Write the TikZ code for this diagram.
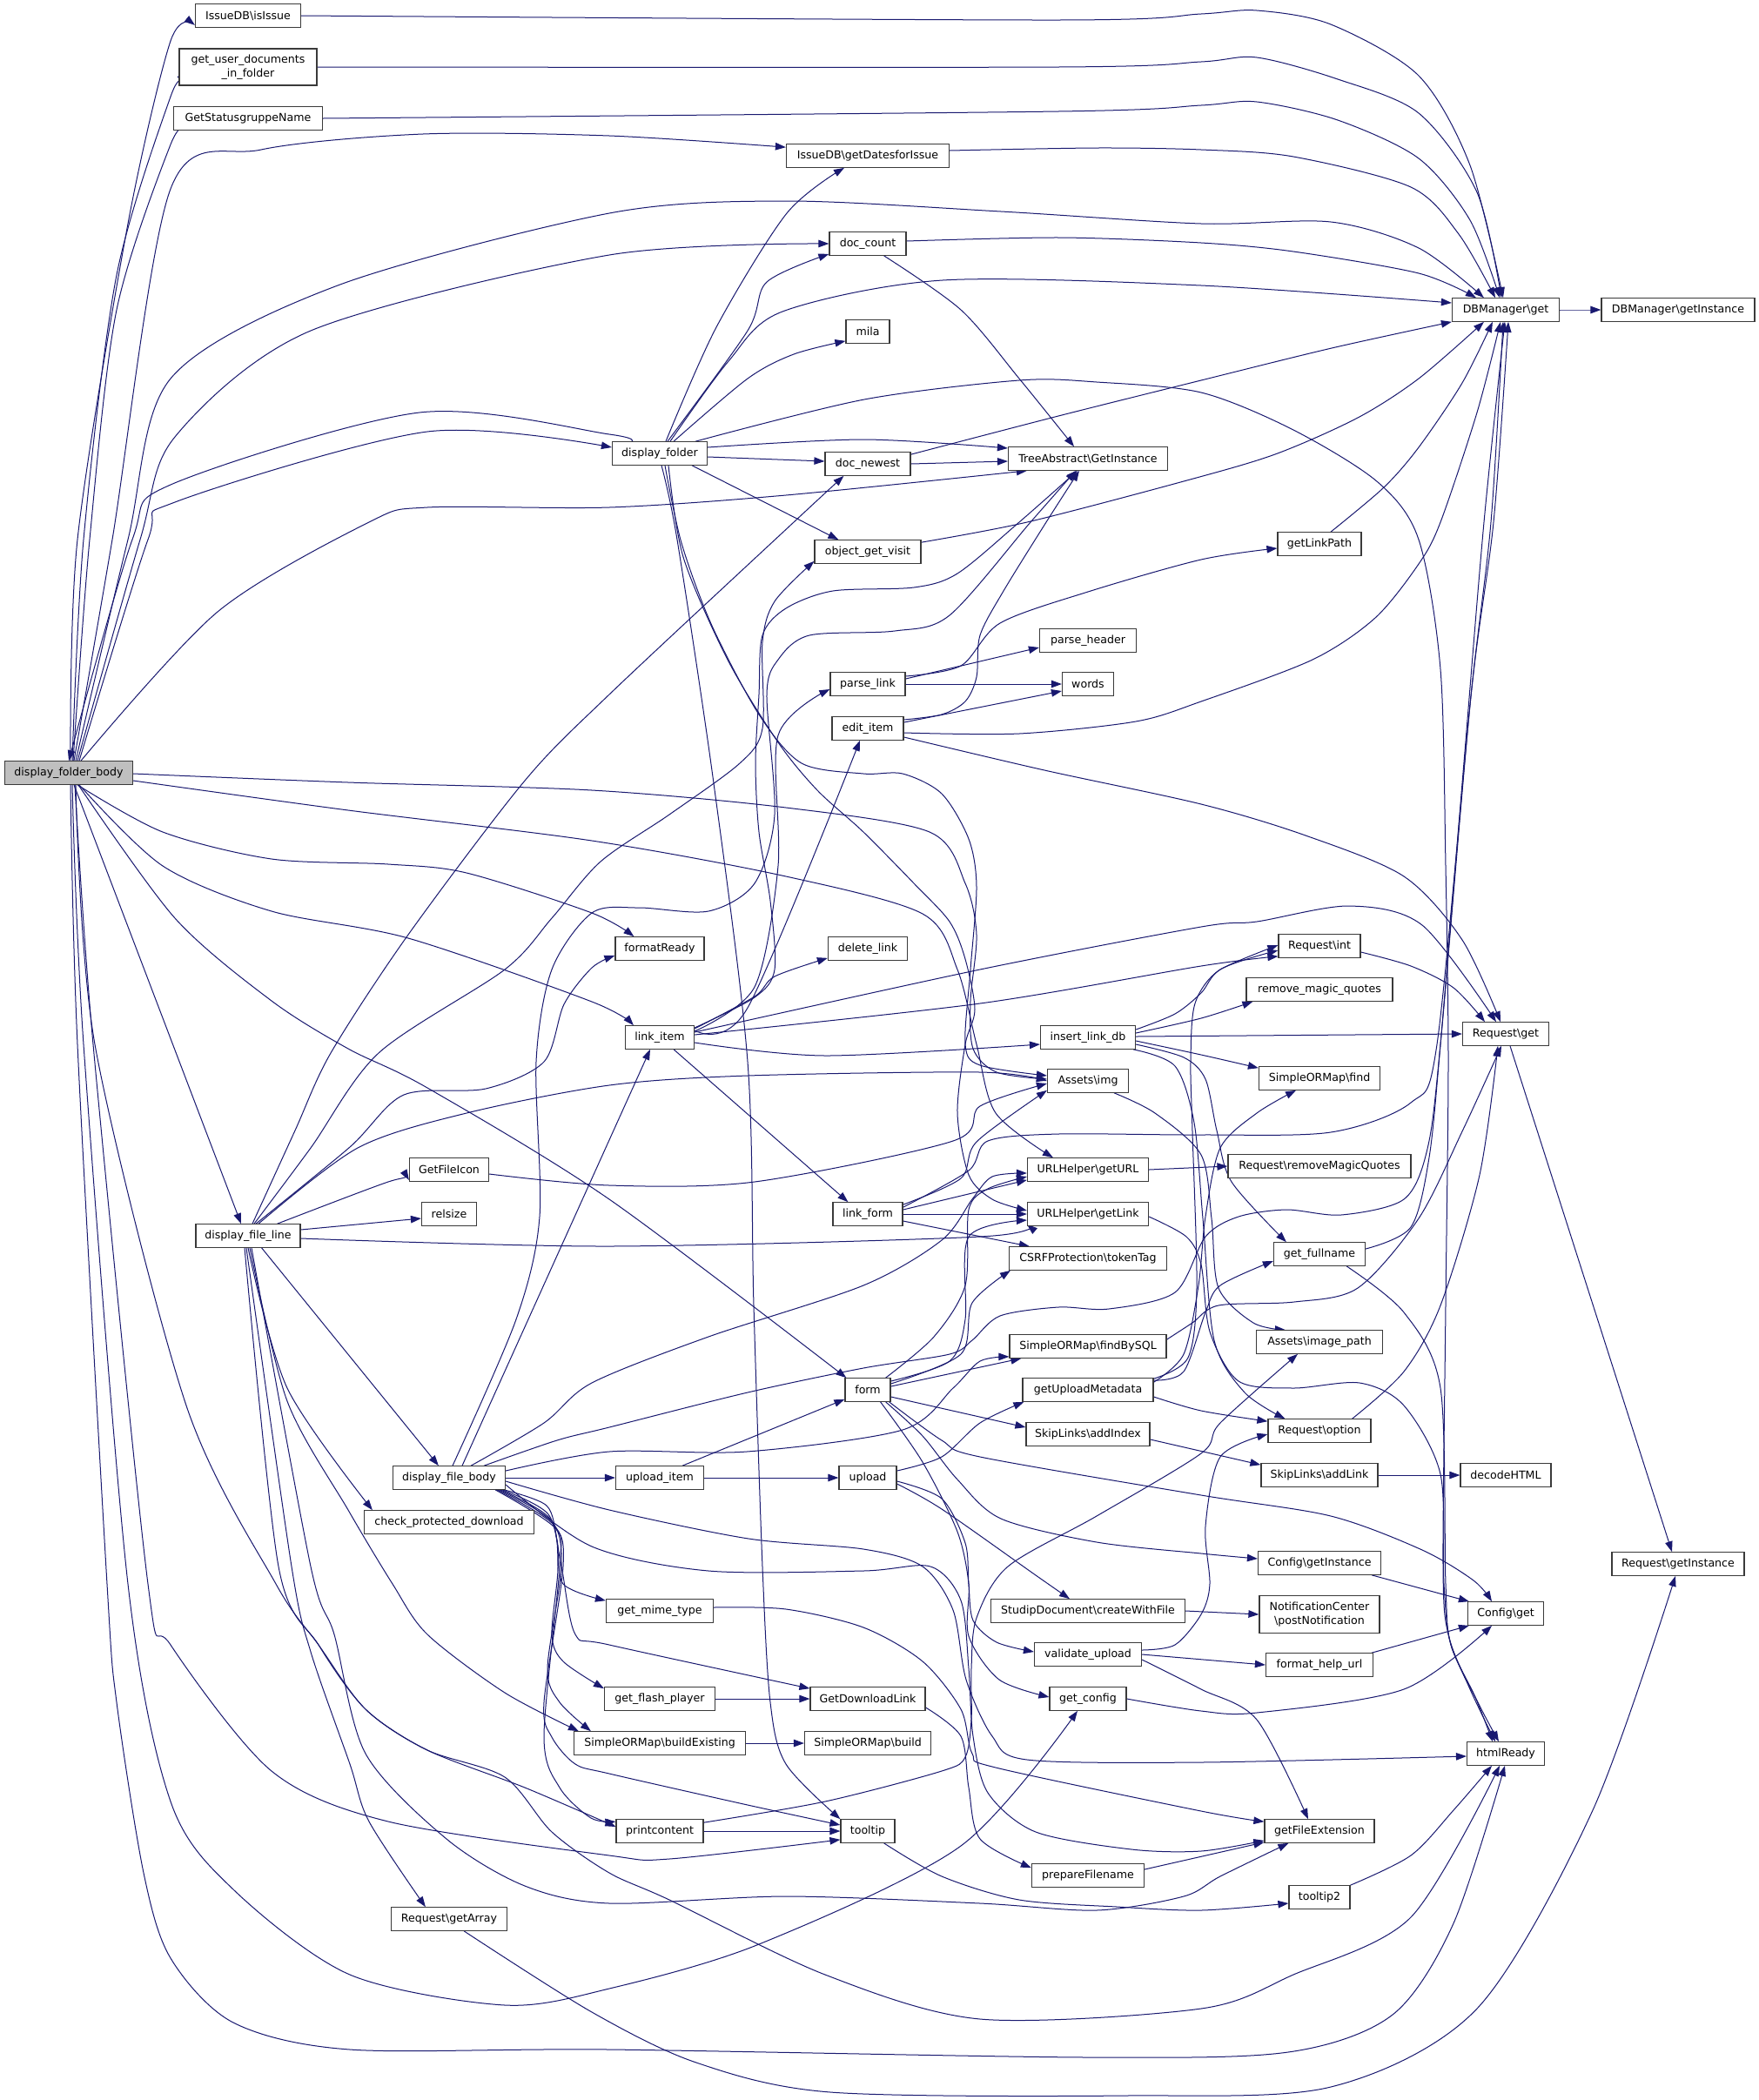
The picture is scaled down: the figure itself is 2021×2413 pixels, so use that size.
\documentclass[tikz,border=0pt]{standalone}
\usepackage{fontspec}
\setmainfont{DejaVu Sans}
\usetikzlibrary{arrows.meta,calc}
\definecolor{edgec}{HTML}{191970}
\definecolor{bordc}{HTML}{3A3A3A}
\definecolor{grayfill}{HTML}{BFBFBF}
\pgfdeclarelayer{bg}
\pgfsetlayers{bg,main}
\tikzset{
  fn/.style={draw=bordc, line width=1.2pt, fill=white, rectangle, minimum height=26.5pt,
    inner xsep=2pt, inner ysep=1pt, font=\fontsize{12.6}{15.8}\selectfont, align=center},
  e/.style={draw=edgec, line width=1pt, -{Triangle[length=12pt,width=8.5pt]}},
}
\begin{document}
\begin{tikzpicture}[x=1pt,y=-1pt]
\useasboundingbox (0,0) rectangle (2021,2413);
% ---------- nodes ----------
\node[fn, minimum width=147pt, fill=grayfill] (dfb) at (79,888) {display\_folder\_body};
\node[fn, minimum width=121pt] (isIssue) at (285,18) {IssueDB\textbackslash isIssue};
\node[fn, minimum width=158pt, minimum height=42pt] (getuser) at (285,77) {get\_user\_documents\\\_in\_folder};
\node[fn, minimum width=171pt] (getstatus) at (285,136) {GetStatusgruppeName};
\node[fn, minimum width=120pt] (dfl) at (285,1420) {display\_file\_line};
\node[fn, minimum width=187pt] (dates) at (997,179) {IssueDB\textbackslash getDatesforIssue};
\node[fn, minimum width=88pt] (doccount) at (997,280) {doc\_count};
\node[fn, minimum width=50pt] (mila) at (997,381) {mila};
\node[fn, minimum width=109pt] (df) at (758,521) {display\_folder};
\node[fn, minimum width=98pt] (docnewest) at (997,533) {doc\_newest};
\node[fn, minimum width=183pt] (tree) at (1250,527) {TreeAbstract\textbackslash GetInstance};
\node[fn, minimum width=123pt] (dbget) at (1730,356) {DBManager\textbackslash get};
\node[fn, minimum width=176pt] (dbinst) at (1928,356) {DBManager\textbackslash getInstance};
\node[fn, minimum width=96pt] (linkpath) at (1516,625) {getLinkPath};
\node[fn, minimum width=122pt] (ogv) at (997,634) {object\_get\_visit};
\node[fn, minimum width=111pt] (parseheader) at (1250,736) {parse\_header};
\node[fn, minimum width=86pt] (parselink) at (997,786) {parse\_link};
\node[fn, minimum width=59pt] (words) at (1250,786) {words};
\node[fn, minimum width=82pt] (edititem) at (997,837) {edit\_item};
\node[fn, minimum width=94pt] (reqint) at (1516,1087) {Request\textbackslash int};
\node[fn, minimum width=168pt] (rmq) at (1516,1137) {remove\_magic\_quotes};
\node[fn, minimum width=99pt] (reqget) at (1730,1188) {Request\textbackslash get};
\node[fn, minimum width=102pt] (formatready) at (758,1090) {formatReady};
\node[fn, minimum width=91pt] (deletelink) at (997,1090) {delete\_link};
\node[fn, minimum width=79pt] (linkitem) at (758,1192) {link\_item};
\node[fn, minimum width=109pt] (insertlink) at (1250,1192) {insert\_link\_db};
\node[fn, minimum width=93pt] (img) at (1250,1242) {Assets\textbackslash img};
\node[fn, minimum width=139pt] (ormfind) at (1516,1239) {SimpleORMap\textbackslash find};
\node[fn, minimum width=139pt] (geturl) at (1250,1344) {URLHelper\textbackslash getURL};
\node[fn, minimum width=210pt] (reqrmq) at (1516,1340) {Request\textbackslash removeMagicQuotes};
\node[fn, minimum width=91pt] (getfileicon) at (516,1344) {GetFileIcon};
\node[fn, minimum width=63pt] (relsize) at (516,1395) {relsize};
\node[fn, minimum width=80pt] (linkform) at (997,1395) {link\_form};
\node[fn, minimum width=139pt] (getlink) at (1250,1395) {URLHelper\textbackslash getLink};
\node[fn, minimum width=105pt] (fullname) at (1516,1441) {get\_fullname};
\node[fn, minimum width=181pt] (csrf) at (1250,1446) {CSRFProtection\textbackslash tokenTag};
\node[fn, minimum width=145pt] (imgpath) at (1516,1542) {Assets\textbackslash image\_path};
\node[fn, minimum width=180pt] (findbysql) at (1250,1547) {SimpleORMap\textbackslash findBySQL};
\node[fn, minimum width=52pt] (form) at (997,1597) {form};
\node[fn, minimum width=150pt] (uploadmeta) at (1250,1597) {getUploadMetadata};
\node[fn, minimum width=118pt] (reqoption) at (1516,1644) {Request\textbackslash option};
\node[fn, minimum width=142pt] (addindex) at (1250,1648) {SkipLinks\textbackslash addIndex};
\node[fn, minimum width=134pt] (addlink) at (1516,1695) {SkipLinks\textbackslash addLink};
\node[fn, minimum width=104pt] (decode) at (1730,1695) {decodeHTML};
\node[fn, minimum width=129pt] (dfb2) at (516,1698) {display\_file\_body};
\node[fn, minimum width=101pt] (uploaditem) at (758,1698) {upload\_item};
\node[fn, minimum width=66pt] (upload) at (997,1698) {upload};
\node[fn, minimum width=195pt] (checkprot) at (516,1749) {check\_protected\_download};
\node[fn, minimum width=141pt] (cfginst) at (1516,1796) {Config\textbackslash getInstance};
\node[fn, minimum width=152pt] (reqinst) at (1928,1797) {Request\textbackslash getInstance};
\node[fn, minimum width=123pt] (mime) at (758,1851) {get\_mime\_type};
\node[fn, minimum width=223pt] (createfile) at (1250,1851) {StudipDocument\textbackslash createWithFile};
\node[fn, minimum width=138pt, minimum height=43pt] (notif) at (1516,1855) {NotificationCenter\\\textbackslash postNotification};
\node[fn, minimum width=87pt] (cfgget) at (1730,1854) {Config\textbackslash get};
\node[fn, minimum width=123pt] (validate) at (1250,1901) {validate\_upload};
\node[fn, minimum width=123pt] (helpurl) at (1516,1913) {format\_help\_url};
\node[fn, minimum width=127pt] (flash) at (758,1952) {get\_flash\_player};
\node[fn, minimum width=132pt] (dllink) at (997,1952) {GetDownloadLink};
\node[fn, minimum width=88pt] (getconfig) at (1250,1952) {get\_config};
\node[fn, minimum width=197pt] (buildex) at (758,2003) {SimpleORMap\textbackslash buildExisting};
\node[fn, minimum width=145pt] (build) at (997,2003) {SimpleORMap\textbackslash build};
\node[fn, minimum width=89pt] (html) at (1730,2015) {htmlReady};
\node[fn, minimum width=100pt] (printc) at (758,2104) {printcontent};
\node[fn, minimum width=62pt] (tooltip) at (997,2104) {tooltip};
\node[fn, minimum width=126pt] (fileext) at (1516,2104) {getFileExtension};
\node[fn, minimum width=129pt] (prepfn) at (1250,2155) {prepareFilename};
\node[fn, minimum width=70pt] (tooltip2) at (1516,2180) {tooltip2};
\node[fn, minimum width=133pt] (getarray) at (516,2205) {Request\textbackslash getArray};
% ---------- edges ----------
\begin{pgfonlayer}{bg}
\fill[white] (0,0) rectangle (2021,2413);
% display_folder_body
\draw[e] plot[smooth] coordinates {($(dfb.north)+(2,0)$) (89,620) (147,257) (196,47) ($(isIssue.south west)+(0,-3)$)};
\draw[e] plot[smooth] coordinates {($(dfb.north)+(4,0)$) (96,620) (134,316) (196,111) ($(getuser.south west)+(5,0)$)};
\draw[e] plot[smooth] coordinates {($(dfb.north)+(5,0)$) (103,620) (134,356) (196,166) ($(getstatus.south west)+(16,0)$)};
\draw[e] plot[smooth] coordinates {($(dfb.north)+(6,0)$) (129,620) (196,217) (300,172) (486,154) (700,156) ($(dates.north west)+(0,4)$)};
\draw[e] plot[smooth] coordinates {($(dfb.north)+(8,0)$) (147,620) (196,435) (388,328) (700,245) (903,231) (1150,243) (1380,257) (1529,255) (1630,285) ($(dbget.north west)+(37,0)$)};
\draw[e] plot[smooth] coordinates {($(dfb.north)+(10,0)$) (161,620) (201,502) (357,380) (700,293) (doccount.west)};
\draw[e] plot[smooth] coordinates {($(dfb.north)+(12,0)$) (170,620) (201,577) (491,496) ($(df.west)+(0,-7)$)};
\draw[e] plot[smooth] coordinates {($(df.north west)+(23,0)$) (700,499) (482,474) (196,557) (152,620) (dfb.north)};
\draw[e] plot[smooth] coordinates {($(dfb.north)+(14,0)$) (250,703) (424,600) (491,583) (700,583) (903,569) ($(tree.south west)+(22,0)$)};
\draw[e] plot[smooth] coordinates {($(dfb.east)+(0,1)$) (400,899) (680,908) (903,928) (1068,956) (1109,1015) (1122,1074) (1115,1150) (1118,1205) (1145,1232) ($(img.west)+(0,-2)$)};
\draw[e] plot[smooth] coordinates {($(dfb.east)+(0,9)$) (400,931) (680,966) (903,1007) (1060,1050) (1100,1114) (1122,1200) (1144,1279) ($(geturl.north west)+(30,0)$)};
\draw[e] plot[smooth] coordinates {($(dfb.south)+(10,0)$) (187,956) (312,987) (446,993) (536,1003) (680,1049) ($(formatready.north west)+(22,0)$)};
\draw[e] plot[smooth] coordinates {($(dfb.south)+(12,0)$) (187,995) (312,1047) (469,1078) (680,1151) ($(linkitem.north west)+(10,0)$)};
\draw[e] plot[smooth] coordinates {($(dfb.south)+(11,0)$) (201,1055) (312,1150) (400,1205) (491,1250) (700,1378) ($(form.north west)+(2,0)$)};
\draw[e] plot[smooth] coordinates {($(dfb.south)+(6,0)$) ($(dfl.north)+(-8,0)$)};
\draw[e] plot[smooth] coordinates {($(dfb.south)+(2,0)$) (89,1200) (123,1820) (134,1956) (165,2152) (196,2250) (268,2324) (402,2355) (700,2355) (1250,2364) (1480,2358) (1600,2315) (1670,2210) ($(html.south)+(-1,0)$)};
\draw[e] plot[smooth] coordinates {($(dfb.south)+(4,0)$) (96,1200) (147,1820) (196,2070) (268,2171) (402,2269) (580,2304) (700,2285) (872,2234) (1104,2121) ($(getconfig.south)+(-12,0)$)};
\draw[e] plot[smooth] coordinates {($(dfb.south)+(7,0)$) (107,1200) (170,1820) (196,1890) (312,2035) (446,2093) (700,2132) (769,2136) ($(tooltip.south west)+(0,-4)$)};
\draw[e] plot[smooth] coordinates {($(dfb.south)+(8,0)$) (109,1200) (214,1615) (317,1820) (366,1890) (420,1964) (491,2011) (603,2054) ($(printc.west)+(0,-5)$)};
% display_file_line
\draw[e] plot[smooth] coordinates {($(dfl.north)+(5,0)$) (339,1299) (380,1210) (469,1074) (603,897) (700,798) (912,600) ($(docnewest.south west)+(22,0)$)};
\draw[e] plot[smooth] coordinates {($(dfl.north)+(7,0)$) (357,1319) (435,1210) (580,1114) (634,1055) (690,990) (769,936) (850,877) (876,837) (876,738) (890,691) ($(ogv.south west)+(0,-3)$)};
\draw[e] plot[smooth] coordinates {($(dfl.north)+(9,0)$) (402,1318) (464,1258) (558,1251) (625,1220) (648,1154) (680,1112) ($(formatready.west)+(0,8)$)};
\draw[e] plot[smooth] coordinates {($(dfl.north)+(12,0)$) (411,1319) (536,1279) (700,1247) (859,1236) (1126,1232) (img.west)};
\draw[e] plot[smooth] coordinates {($(dfl.north east)+(-27,0)$) (446,1358) ($(getfileicon.south west)+(0,-2)$)};
\draw[e] plot[smooth] coordinates {($(dfl.east)+(0,-7)$) ($(relsize.west)+(0,5)$)};
\draw[e] plot[smooth] coordinates {($(dfl.east)+(0,3)$) (700,1432) (1126,1421) ($(getlink.south west)+(0,-2)$)};
\draw[e] plot[smooth] coordinates {($(dfl.south east)+(-45,0)$) ($(dfb2.north west)+(53,0)$)};
\draw[e] plot[smooth] coordinates {(dfl.south) (330,1595) ($(checkprot.north west)+(10,0)$)};
\draw[e] plot[smooth] coordinates {($(dfl.south)+(2,0)$) (330,1610) (400,1735) (451,1820) (491,1878) (580,1945) ($(buildex.north west)+(6,0)$)};
\draw[e] plot[smooth] coordinates {($(dfl.south)+(-2,0)$) (335,1800) (357,1898) (402,2027) (424,2093) ($(getarray.north west)+(40,0)$)};
\draw[e] plot[smooth] coordinates {($(dfl.south)+(-4,0)$) (320,1800) (366,1890) (420,1964) (491,2011) (580,2042) (634,2105) (700,2152) (769,2183) (948,2269) (1126,2320) (1380,2308) (1486,2269) (1621,2203) ($(html.south)+(-7,0)$)};
\draw[e] plot[smooth] coordinates {($(dfl.south)+(4,0)$) (357,1800) (384,1878) (420,2015) (513,2113) (603,2167) (700,2187) (903,2179) (1126,2187) (1260,2195) (1360,2179) (1402,2156) ($(fileext.south west)+(28,0)$)};
% display_folder
\draw[e] plot[smooth] coordinates {($(df.north)+(7,0)$) (823,376) (904,245) ($(dates.south)+(-27,0)$)};
\draw[e] plot[smooth] coordinates {($(df.north)+(9,0)$) (859,380) (881,324) ($(doccount.south west)+(0,-2)$)};
\draw[e] plot[smooth] coordinates {($(df.north)+(12,0)$) (837,415) (899,358) (1083,322) (1380,328) ($(dbget.west)+(0,-8)$)};
\draw[e] plot[smooth] coordinates {($(df.north)+(16,0)$) (859,435) (912,407) ($(mila.south west)+(0,-3)$)};
\draw[e] plot[smooth] coordinates {($(df.north east)+(-14,0)$) (993,459) (1171,437) (1260,439) (1380,451) (1486,494) (1583,554) (1630,620) (1655,769) (1661,995) (1664,1220) (1661,1500) (1658,1800) (1664,1878) (1689,1941) ($(html.north)+(-12,0)$)};
\draw[e] plot[smooth] coordinates {($(df.east)+(0,-7)$) (993,505) ($(tree.west)+(0,-12)$)};
\draw[e] plot[smooth] coordinates {($(df.east)+(0,4)$) ($(docnewest.west)+(0,-3)$)};
\draw[e] plot[smooth] coordinates {($(df.south east)+(-18,0)$) ($(ogv.north west)+(28,0)$)};
\draw[e] plot[smooth] coordinates {($(df.south)+(2,0)$) (778,620) (820,900) (859,1220) (866,1500) (876,1800) (885,1956) (903,2027) (tooltip.north west)};
\draw[e] plot[smooth] coordinates {($(df.south)+(6,0)$) (783,624) (818,719) (872,821) (921,877) (992,889) (1037,889) (1082,912) (1113,964) (1122,1019) (1115,1114) (1109,1200) (1126,1224) ($(img.west)+(0,-6)$)};
\draw[e] plot[smooth] coordinates {($(df.south)+(10,0)$) (785,640) (836,758) (894,853) (939,908) (992,956) (1050,1015) (1091,1059) (1109,1102) (1120,1160) (1109,1200) (1100,1279) (1113,1350) (1140,1378) ($(getlink.west)+(0,-4)$)};
% top row callers of DBManager::get
\draw[e] plot[smooth] coordinates {(isIssue.east) (1216,23) (1380,16) (1444,12) (1529,28) (1630,87) (1689,190) ($(dbget.north)+(-3,0)$)};
\draw[e] plot[smooth] coordinates {(getuser.east) (1216,77) (1380,71) (1444,66) (1537,91) (1630,130) (1697,221) ($(dbget.north)+(-5,0)$)};
\draw[e] plot[smooth] coordinates {(getstatus.east) (1216,128) (1380,121) (1444,117) (1537,138) (1630,182) (1689,253) ($(dbget.north)+(-7,0)$)};
\draw[e] plot[smooth] coordinates {($(dates.east)+(0,-6)$) (1260,170) (1380,172) (1486,180) (1621,215) (1676,269) ($(dbget.north)+(-12,0)$)};
% doc_count, doc_newest, object_get_visit, getLinkPath
\draw[e] plot[smooth] coordinates {($(doccount.east)+(0,-3)$) (1218,273) (1380,279) (1486,289) (1630,314) ($(dbget.north west)+(28,0)$)};
\draw[e] plot[smooth] coordinates {($(doccount.south east)+(-26,0)$) (1104,356) (1171,435) ($(tree.north)+(-16,0)$)};
\draw[e] plot[smooth] coordinates {(docnewest.east) ($(tree.west)+(0,3)$)};
\draw[e] plot[smooth] coordinates {($(docnewest.north east)+(0,3)$) (1216,478) (1380,437) (1530,400) (dbget.south west)};
\draw[e] plot[smooth] coordinates {($(ogv.north east)+(0,3)$) (1180,600) (1360,553) (1465,522) (1560,480) (1630,435) ($(dbget.south west)+(37,0)$)};
\draw[e] plot[smooth] coordinates {($(linkpath.north)+(13,0)$) (1590,560) (1630,514) (1680,440) ($(dbget.south west)+(47,0)$)};
% edit_item, parse_link
\draw[e] plot[smooth] coordinates {($(edititem.east)+(0,-10)$) (1082,821) (1109,806) (1122,778) (1126,730) (1153,679) (1202,600) ($(tree.south)+(-10,0)$)};
\draw[e] plot[smooth] coordinates {($(edititem.east)+(0,-7)$) ($(words.west)+(0,8)$)};
\draw[e] plot[smooth] coordinates {($(edititem.east)+(0,5)$) (1171,843) (1305,829) (1380,806) (1508,758) (1580,710) (1630,648) (1655,600) (1697,474) ($(dbget.south)+(-6,0)$)};
\draw[e] plot[smooth] coordinates {($(edititem.east)+(0,10)$) (1200,885) (1380,924) (1500,960) (1613,1007) (1680,1080) ($(reqget.north)+(-6,0)$)};
\draw[e] plot[smooth] coordinates {($(parselink.east)+(0,-6)$) ($(parseheader.west)+(0,8)$)};
\draw[e] plot[smooth] coordinates {(parselink.east) (words.west)};
\draw[e] plot[smooth] coordinates {($(parselink.east)+(0,-9)$) (1104,765) (1149,716) (1250,680) (1380,643) ($(linkpath.west)+(0,5)$)};
\draw[e] plot[smooth] coordinates {(dbget.east) (dbinst.west)};
\draw[e] plot[smooth] coordinates {($(reqint.east)+(0,7)$) (1621,1110) (1670,1135) ($(reqget.north)+(-24,0)$)};
\draw[e] plot[smooth] coordinates {($(reqget.south)+(5,0)$) ($(reqinst.north)+(-7,0)$)};
% link_item
\draw[e] plot[smooth] coordinates {($(linkitem.east)+(0,-10)$) (867,1145) (890,1122) ($(deletelink.south west)+(0,-3)$)};
\draw[e] plot[smooth] coordinates {($(linkitem.east)+(0,-8)$) (859,1158) ($(edititem.south)+(-9,0)$)};
\draw[e] plot[smooth] coordinates {($(linkitem.east)+(0,-7)$) (867,1134) (894,995) (894,845) ($(parselink.west)+(0,6)$)};
\draw[e] plot[smooth] coordinates {($(linkitem.east)+(0,-11)$) (867,1146) (890,1114) (885,1035) (872,956) (868,877) (872,798) (876,730) (903,699) (957,679) (1050,675) (1100,659) (1171,600) ($(tree.south)+(-12,0)$)};
\draw[e] plot[smooth] coordinates {($(linkitem.east)+(0,-6)$) (1126,1114) (1380,1065) (1444,1059) (1550,1041) (1634,1063) ($(reqget.north)+(-11,0)$)};
\draw[e] plot[smooth] coordinates {($(linkitem.east)+(0,-3)$) (1126,1153) (1380,1110) ($(reqint.south west)+(0,-2)$)};
\draw[e] plot[smooth] coordinates {($(linkitem.east)+(0,6)$) (948,1213) ($(insertlink.west)+(0,8)$)};
\draw[e] plot[smooth] coordinates {($(linkitem.south east)+(-24,0)$) ($(linkform.north west)+(18,0)$)};
% insert_link_db
\draw[e] plot[smooth] coordinates {($(insertlink.east)+(0,-9)$) (1350,1165) (1380,1141) (1402,1114) ($(reqint.west)+(0,-1)$)};
\draw[e] plot[smooth] coordinates {($(insertlink.east)+(0,-5)$) (1380,1170) ($(rmq.south west)+(8,0)$)};
\draw[e] plot[smooth] coordinates {($(insertlink.east)+(0,-1)$) (reqget.west)};
\draw[e] plot[smooth] coordinates {($(insertlink.east)+(0,4)$) (1380,1212) ($(ormfind.north west)+(0,2)$)};
\draw[e] plot[smooth] coordinates {($(insertlink.east)+(0,8)$) (1360,1215) (1385,1240) (1398,1299) (1415,1358) ($(fullname.north west)+(15,0)$)};
\draw[e] plot[smooth] coordinates {($(insertlink.south east)+(-3,0)$) (1350,1225) (1372,1290) (1382,1400) (1395,1540) (1430,1600) ($(reqoption.north west)+(20,0)$)};
\draw[e] plot[smooth] coordinates {($(img.south east)+(-17,0)$) (1327,1279) (1380,1327) (1392,1400) (1400,1480) (1440,1520) ($(imgpath.north west)+(34,0)$)};
\draw[e] plot[smooth] coordinates {(geturl.east) (reqrmq.west)};
\draw[e] plot[smooth] coordinates {($(getlink.east)+(0,3)$) (1363,1421) (1380,1453) (1390,1530) (1423,1587) (1486,1595) (1562,1589) (1613,1615) (1655,1694) (1659,1820) (1667,1890) (1695,1950) ($(html.north)+(-15,0)$)};
% link_form
\draw[e] plot[smooth] coordinates {($(linkform.north east)+(0,3)$) (1104,1354) (1122,1312) ($(img.south west)+(0,-3)$)};
\draw[e] plot[smooth] coordinates {($(linkform.north east)+(0,6)$) (1113,1345) (1135,1311) (1216,1303) (1380,1304) (1529,1301) (1621,1267) (1651,1200) (1690,800) (1713,600) ($(dbget.south)+(-3,0)$)};
\draw[e] plot[smooth] coordinates {($(linkform.east)+(0,-5)$) ($(geturl.south west)+(0,-2)$)};
\draw[e] plot[smooth] coordinates {(linkform.east) (getlink.west)};
\draw[e] plot[smooth] coordinates {($(linkform.east)+(0,8)$) ($(csrf.north west)+(24,0)$)};
% form
\draw[e] plot[smooth] coordinates {($(form.north east)+(-6,0)$) (1073,1536) (1109,1477) (1113,1390) (1135,1366) ($(geturl.west)+(0,8)$)};
\draw[e] plot[smooth] coordinates {($(form.east)+(0,-10)$) (1091,1564) (1109,1516) (1113,1421) ($(getlink.west)+(0,7)$)};
\draw[e] plot[smooth] coordinates {($(form.east)+(0,-7)$) (1104,1556) (1117,1497) ($(csrf.south west)+(2,0)$)};
\draw[e] plot[smooth] coordinates {($(form.east)+(0,-4)$) ($(findbysql.south west)+(14,0)$)};
\draw[e] plot[smooth] coordinates {($(form.east)+(0,8)$) ($(addindex.west)+(0,-8)$)};
\draw[e] plot[smooth] coordinates {($(form.south east)+(-2,0)$) (1082,1655) (1126,1674) (1380,1718) (1529,1742) (1634,1781) (1693,1816) ($(cfgget.north)+(-16,0)$)};
\draw[e] plot[smooth] coordinates {($(form.south east)+(-6,0)$) (1060,1650) (1100,1700) (1150,1745) (1260,1772) (1380,1785) ($(cfginst.west)+(0,-5)$)};
\draw[e] plot[smooth] coordinates {($(form.south east)+(-12,0)$) (1060,1680) (1100,1760) (1113,1820) (1113,1880) (1148,1930) ($(getconfig.west)+(0,-2)$)};
% getUploadMetadata
\draw[e] plot[smooth] coordinates {($(uploadmeta.north east)+(0,5)$) (1360,1556) (1377,1477) (1385,1398) (1402,1319) (1444,1279) ($(ormfind.south)+(-27,0)$)};
\draw[e] plot[smooth] coordinates {($(uploadmeta.north east)+(0,3)$) (1360,1576) (1385,1508) (1402,1477) ($(fullname.west)+(0,8)$)};
\draw[e] plot[smooth] coordinates {($(uploadmeta.north east)+(0,1)$) (1365,1560) (1375,1480) (1370,1300) (1368,1220) (1373,1153) (1402,1114) ($(reqint.west)+(0,5)$)};
\draw[e] plot[smooth] coordinates {($(uploadmeta.east)+(0,8)$) (1380,1621) ($(reqoption.north west)+(0,3)$)};
% misc right part
\draw[e] plot[smooth] coordinates {($(addindex.east)+(0,6)$) ($(addlink.north west)+(0,2)$)};
\draw[e] plot[smooth] coordinates {(addlink.east) (decode.west)};
\draw[e] plot[smooth] coordinates {($(cfginst.south east)+(-11,0)$) ($(cfgget.north west)+(2,0)$)};
\draw[e] plot[smooth] coordinates {(createfile.east) (notif.west)};
\draw[e] plot[smooth] coordinates {($(validate.east)+(0,-5)$) (1350,1890) (1380,1855) (1390,1820) (1385,1754) (1402,1674) ($(reqoption.west)+(0,4)$)};
\draw[e] plot[smooth] coordinates {(validate.east) (helpurl.west)};
\draw[e] plot[smooth] coordinates {($(validate.east)+(0,6)$) (1380,1941) (1444,1976) ($(fileext.north)+(-13,0)$)};
\draw[e] plot[smooth] coordinates {($(helpurl.north east)+(-2,0)$) ($(cfgget.south west)+(2,0)$)};
\draw[e] plot[smooth] coordinates {(getconfig.east) (1380,1966) (1444,1968) (1613,1941) ($(cfgget.south)+(-16,0)$)};
\draw[e] plot[smooth] coordinates {($(fullname.east)+(0,-6)$) (1621,1410) (1642,1330) (1655,1200) (1680,900) (1705,600) ($(dbget.south)+(-1,0)$)};
\draw[e] plot[smooth] coordinates {($(fullname.south east)+(-22,0)$) (1613,1508) (1655,1595) (1661,1820) (1667,1890) (1700,1960) ($(html.north)+(-8,0)$)};
\draw[e] plot[smooth] coordinates {($(findbysql.north east)+(0,6)$) (1370,1520) (1400,1500) (1487,1496) (1560,1480) (1630,1400) (1680,1300) ($(reqget.south)+(-5,0)$)};
\draw[e] plot[smooth] coordinates {($(reqoption.north east)+(-22,0)$) (1613,1576) (1655,1500) (1700,1350) ($(reqget.south)+(-9,0)$)};
% upload, upload_item
\draw[e] plot[smooth] coordinates {($(upload.east)+(0,-8)$) (1082,1674) (1126,1635) ($(uploadmeta.south west)+(2,0)$)};
\draw[e] plot[smooth] coordinates {($(upload.east)+(0,7)$) (1082,1734) (1190,1810) ($(createfile.north)+(-21,0)$)};
\draw[e] plot[smooth] coordinates {($(upload.east)+(0,4)$) (1082,1722) (1109,1773) (1113,1820) (1118,1862) (1145,1887) ($(validate.west)+(0,-3)$)};
\draw[e] plot[smooth] coordinates {($(uploaditem.north east)+(-25,0)$) ($(form.south west)+(0,-3)$)};
\draw[e] plot[smooth] coordinates {(uploaditem.east) (upload.west)};
% display_file_body
\draw[e] plot[smooth] coordinates {(dfb2.east) (uploaditem.west)};
\draw[e] plot[smooth] coordinates {($(dfb2.north)+(15,0)$) ($(linkitem.south)+(-11,0)$)};
\draw[e] plot[smooth] coordinates {($(dfb2.north)+(4,0)$) (593,1516) (620,1398) (616,1220) (634,1114) (680,1049) (734,1043) (814,1047) (867,1015) (890,936) (881,798) (894,758) (930,730) (1028,725) (1091,707) (1184,600) ($(tree.south)+(-14,0)$)};
\draw[e] plot[smooth] coordinates {($(dfb2.north east)+(-40,0)$) (625,1635) (680,1589) (814,1536) (992,1477) (1082,1425) (1117,1378) (1140,1352) ($(geturl.west)+(0,4)$)};
\draw[e] plot[smooth] coordinates {($(dfb2.north east)+(-25,0)$) (640,1655) (700,1640) (859,1600) (992,1572) (1091,1556) (1117,1540) (1149,1512) (1216,1502) (1274,1504) (1350,1485) (1385,1421) (1423,1398) (1478,1390) (1541,1396) (1613,1378) (1640,1320) (1655,1200) (1690,800) (1716,600) ($(dbget.south)+(3,0)$)};
\draw[e] plot[smooth] coordinates {($(dfb2.east)+(0,-8)$) (700,1668) (858,1668) (1037,1643) (1095,1595) (1126,1564) ($(findbysql.south west)+(0,-2)$)};
\draw[e] plot[smooth] coordinates {($(dfb2.east)+(0,4)$) (700,1735) (860,1768) (992,1780) (1060,1800) (1095,1850) (1110,1930) (1140,1995) (1180,2022) (1380,2025) ($(html.west)+(0,3)$)};
\draw[e] plot[smooth] coordinates {($(dfb2.east)+(0,8)$) (680,1777) (814,1805) (992,1805) (1069,1800) (1104,1839) (1113,1917) (1118,1995) (1135,2060) (1190,2105) (1300,2125) (1380,2127) ($(fileext.south west)+(0,-3)$)};
\draw[e] plot[smooth] coordinates {($(dfb2.south east)+(-2,0)$) (628,1730) (640,1770) (647,1820) ($(mime.north west)+(0,2)$)};
\draw[e] plot[smooth] coordinates {($(dfb2.south east)+(-4,0)$) (630,1740) (645,1800) (661,1878) (700,1890) ($(dllink.north west)+(0,2)$)};
\draw[e] plot[smooth] coordinates {($(dfb2.south east)+(-6,0)$) (632,1745) (641,1800) (634,1878) (647,1909) ($(flash.north west)+(0,2)$)};
\draw[e] plot[smooth] coordinates {($(dfb2.south east)+(-8,0)$) (634,1748) (645,1800) (629,1917) (643,1956) ($(buildex.north west)+(20,0)$)};
\draw[e] plot[smooth] coordinates {($(dfb2.south east)+(-10,0)$) (636,1752) (647,1800) (625,1956) (634,1996) (661,2027) (700,2038) (859,2074) ($(tooltip.west)+(0,-7)$)};
\draw[e] plot[smooth] coordinates {($(dfb2.south east)+(-12,0)$) (638,1756) (643,1800) (625,1995) (643,2054) (679,2089) ($(printc.north west)+(0,3)$)};
% bottom
\draw[e] plot[smooth] coordinates {(printc.east) (tooltip.west)};
\draw[e] plot[smooth] coordinates {($(printc.north east)+(0,4)$) (948,2070) (1082,2035) (1109,2019) (1116,1976) (1116,1917) (1122,1859) (1158,1800) (1260,1742) (1380,1670) (1402,1635) ($(imgpath.south)+(-25,0)$)};
\draw[e] plot[smooth] coordinates {($(tooltip.south east)+(-13,0)$) (1082,2156) (1171,2183) (1283,2191) (1380,2195) ($(tooltip2.west)+(0,7)$)};
\draw[e] plot[smooth] coordinates {(tooltip2.north east) (1621,2132) (1670,2080) ($(html.south)+(-16,0)$)};
\draw[e] plot[smooth] coordinates {(flash.east) (dllink.west)};
\draw[e] plot[smooth] coordinates {(buildex.east) (build.west)};
\draw[e] plot[smooth] coordinates {($(dllink.east)+(0,10)$) (1104,1995) (1113,2054) (1126,2113) ($(prepfn.north west)+(0,5)$)};
\draw[e] plot[smooth] coordinates {($(mime.east)+(0,-4)$) (903,1849) (992,1870) (1060,1909) (1104,1964) (1117,2015) (1144,2031) (1380,2081) ($(fileext.north west)+(0,3)$)};
\draw[e] plot[smooth] coordinates {($(prepfn.east)+(0,-7)$) ($(fileext.south west)+(0,-1)$)};
\draw[e] plot[smooth] coordinates {($(getarray.south east)+(-50,0)$) (680,2312) (800,2370) (954,2404) (1293,2408) (1529,2398) (1697,2308) (1830,2080) ($(reqinst.south)+(-3,0)$)};
\draw[e] plot[smooth] coordinates {($(getfileicon.east)+(0,5)$) (700,1362) (867,1358) (1095,1311) (1126,1271) ($(img.west)+(0,3)$)};
\end{pgfonlayer}
\end{tikzpicture}
\end{document}
